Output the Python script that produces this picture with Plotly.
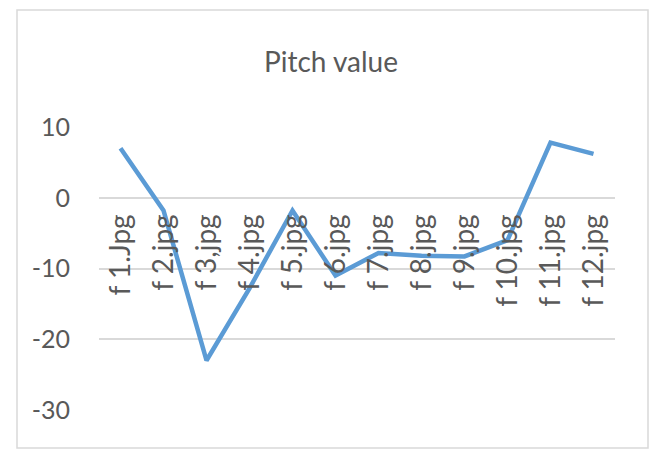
import plotly.graph_objects as go

categories = ["f 1.Jpg", "f 2.jpg", "f 3,jpg", "f 4.jpg", "f 5.jpg", "f 6.jpg",
              "f 7.jpg", "f 8.jpg", "f 9.jpg", "f 10.jpg", "f 11.jpg", "f 12.jpg"]
pitch_values = [7.0, -1.8, -23.0, -12.8, -1.8, -11.0, -7.8, -8.2, -8.3, -6.0, 7.8, 6.2]
y_ticks = [10, 0, -10, -20, -30]
y_tick_text = ["10", "0", "-10", "-20", "-30"]

text_color = "#595959"
grid_color = "#D9D9D9"
line_color = "#5B9BD5"
font_family = "Lato, Carlito, Calibri, sans-serif"

fig = go.Figure()
fig.add_trace(go.Scatter(
    x=categories, y=pitch_values, mode="lines",
    line=dict(color=line_color, width=4.5),
    hoverinfo="skip", showlegend=False,
))

# left, right, top, bottom in px
L, R, T, B = 99, 47, 127, 42
W, H = 662, 452
pw, ph = W - L - R, H - T - B

ymin, ymax = -30, 10
zero_frac = (0 - ymin) / (ymax - ymin)

fig.update_layout(
    width=W, height=H,
    margin=dict(l=L, r=R, t=T, b=B, pad=0),
    paper_bgcolor="white", plot_bgcolor="white",
    font=dict(family=font_family, color=text_color, size=18),
    title=dict(text="Pitch value", x=0.5, xanchor="center", xref="container",
               y=1 - 62 / H, yanchor="middle", yref="container",
               font=dict(size=28, color=text_color, family=font_family)),
    xaxis=dict(
        type="category", tickangle=-90, showgrid=False, zeroline=False,
        showline=False, ticks="", anchor="free", position=zero_frac,
        tickfont=dict(size=28, color=text_color),
        ticklabelstandoff=10, range=[-0.5, len(categories) - 0.5],
    ),
    yaxis=dict(
        range=[ymin, ymax], tickvals=y_ticks, ticktext=y_tick_text,
        showgrid=True, gridcolor=grid_color,
        gridwidth=1.5, zeroline=False, showline=False, ticks="",
        tickfont=dict(size=25, color=text_color), ticklabelstandoff=28,
    ),
    shapes=[dict(
        type="rect", xref="paper", yref="paper",
        x0=(17 - L) / pw, x1=(648 - L) / pw,
        y0=(H - B - 448) / ph, y1=(H - B - 10) / ph,
        line=dict(color=grid_color, width=1.5), fillcolor="rgba(0,0,0,0)", layer="below",
    )],
)

fig.write_html("out.html")
